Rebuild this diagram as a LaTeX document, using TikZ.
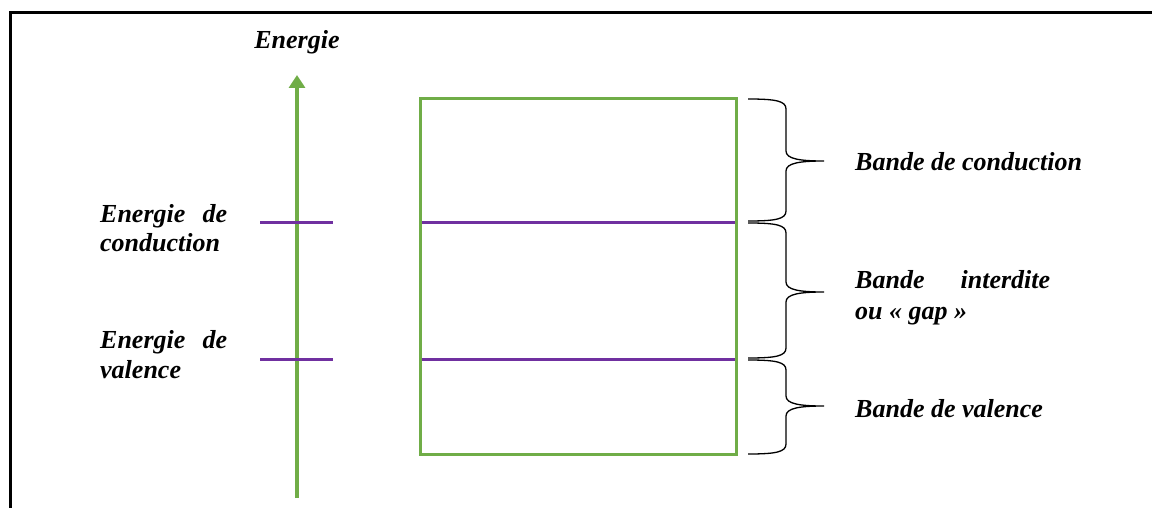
\documentclass[tikz,border=0pt]{standalone}
\usepackage{fontspec}
\setmainfont{Liberation Serif}
\usetikzlibrary{arrows.meta}
\definecolor{offgreen}{HTML}{70AD47}
\definecolor{offpurple}{HTML}{7030A0}
\newcommand\bracebetween[3]{% y1, tip, y2
  \draw[bracestyle] (748,#1) .. controls (776,#1) and (786,#1+2) .. (786,#1+10)
    -- (786,#2-10) .. controls (786,#2-2) and (800,#2) .. (824,#2)
    .. controls (800,#2) and (786,#2+2) .. (786,#2+10)
    -- (786,#3-10) .. controls (786,#3-2) and (776,#3) .. (748,#3);}
\newcommand\twoline[4]{\parbox[t]{#1}{\fontsize{26}{#4}\selectfont\bfseries\itshape\leavevmode\hbox to #1{#2}\par\noindent #3}}
\begin{document}
\begin{tikzpicture}[x=1pt,y=-1pt,
  frame/.style={line width=3pt, black},
  axis/.style={offgreen, line width=4pt, -{Triangle[length=13pt,width=16pt]}},
  bandbox/.style={draw=offgreen, line width=3pt, inner sep=0pt},
  level/.style={offpurple, line width=3pt},
  bracestyle/.style={black, line width=1.3pt},
  lbl/.style={inner sep=0pt, anchor=base west, font=\fontsize{26}{30}\selectfont\bfseries\itshape}]
\useasboundingbox (0,0) rectangle (1153,508);
\draw[frame] (10,508) -- (10,13) -- (1152,13);
% axis
\coordinate (axbot) at (297,498);
\coordinate (axtop) at (297,75);
\draw[axis] (axbot) -- (axtop);
\node[lbl, anchor=base] (en) at (297,49) {Energie};
% levels on the axis
\draw[level] (260,222) -- (333,222);
\draw[level] (260,359) -- (333,359);
% band box
\draw[bandbox] (420,99) rectangle (736,454);
\draw[level] (421.5,222) -- (734.5,222);
\draw[level] (421.5,359) -- (734.5,359);
% braces
\bracebetween{99}{161}{221}
\bracebetween{223}{292}{358}
\bracebetween{360}{406}{454}
% labels left
\node[lbl] (ec) at (100,222) {\twoline{127pt}{Energie\hfill de}{conduction}{29}};
\node[lbl] (ev) at (100,348) {\twoline{127pt}{Energie\hfill de}{valence}{30}};
% labels right
\node[lbl] (bc) at (855,170) {Bande de conduction};
\node[lbl] (bi) at (855,288) {\twoline{195pt}{Bande\hfill interdite}{ou « gap »}{31}};
\node[lbl] (bv) at (855,417) {Bande de valence};
\end{tikzpicture}
\end{document}
